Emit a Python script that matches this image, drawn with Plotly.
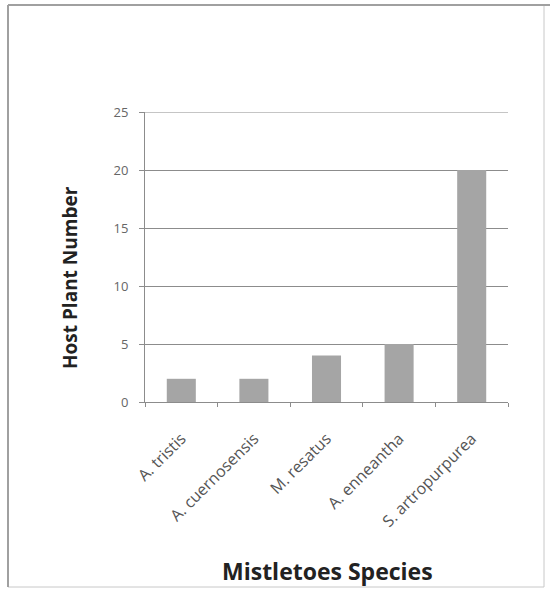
import plotly.graph_objects as go

species = ["A. tristis", "A. cuernosensis", "M. resatus", "A. enneantha", "S. artropurpurea"]
host_counts = [2, 2, 4, 5, 20]
y_ticks = [0, 5, 10, 15, 20, 25]
y_max = 25

# plot-area geometry in pixels
W, H = 550, 590
L, R, T, B = 145, 42, 112, 188
pw, ph = W - L - R, H - T - B


def px_x(x):
    return (x - L) / pw


def px_y(y):
    return (H - B - y) / ph


fig = go.Figure(
    go.Bar(
        x=species,
        y=host_counts,
        marker=dict(color="#a5a5a5", line=dict(width=0)),
        width=0.4,
    )
)

fig.update_layout(
    width=W,
    height=H,
    margin=dict(l=L, r=R, t=T, b=B),
    paper_bgcolor="white",
    plot_bgcolor="white",
    showlegend=False,
    font=dict(family="'Open Sans', sans-serif", color="#555555"),
)

fig.update_xaxes(
    type="category",
    tickangle=-45,
    tickfont=dict(size=16, color="#555555"),
    ticklabelstandoff=20,
    showline=True,
    linecolor="#8c8c8c",
    linewidth=1,
    ticks="outside",
    tickson="boundaries",
    ticklen=4,
    tickcolor="#8c8c8c",
    showgrid=False,
)

fig.update_yaxes(
    range=[0, y_max],
    tickvals=y_ticks,
    tickfont=dict(size=13, color="#666666"),
    ticklabelstandoff=8,
    showline=True,
    linecolor="#8c8c8c",
    linewidth=1,
    ticks="outside",
    ticklen=5,
    tickcolor="#8c8c8c",
    showgrid=True,
    gridcolor="#8c8c8c",
    gridwidth=1,
    zeroline=False,
)

# gridline on the top edge of the value range
fig.add_shape(
    type="line", xref="paper", yref="y",
    x0=0, x1=1, y0=y_max, y1=y_max,
    line=dict(color="#8c8c8c", width=1),
)

# axis titles
fig.add_annotation(
    text="<b>Mistletoes Species</b>",
    xref="paper", yref="paper",
    x=px_x(327), y=px_y(571),
    xanchor="center", yanchor="middle",
    showarrow=False,
    font=dict(size=23, color="#222222"),
)
fig.add_annotation(
    text="<b>Host Plant Number</b>",
    xref="paper", yref="paper",
    x=px_x(70), y=px_y(278),
    xanchor="center", yanchor="middle",
    textangle=-90,
    showarrow=False,
    font=dict(size=19, color="#222222"),
)

# outer chart frame
fig.add_shape(
    type="rect",
    xref="paper", yref="paper",
    x0=px_x(8), x1=px_x(544), y0=px_y(587), y1=px_y(5),
    line=dict(color="#c8c8c8", width=1),
    layer="below",
)
fig.add_shape(
    type="line", xref="paper", yref="paper",
    x0=px_x(8), x1=px_x(550), y0=px_y(5), y1=px_y(5),
    line=dict(color="#a0a0a0", width=2),
)
fig.add_shape(
    type="line", xref="paper", yref="paper",
    x0=px_x(8), x1=px_x(8), y0=px_y(5), y1=px_y(587),
    line=dict(color="#a0a0a0", width=2),
)

fig.write_html("out.html")
